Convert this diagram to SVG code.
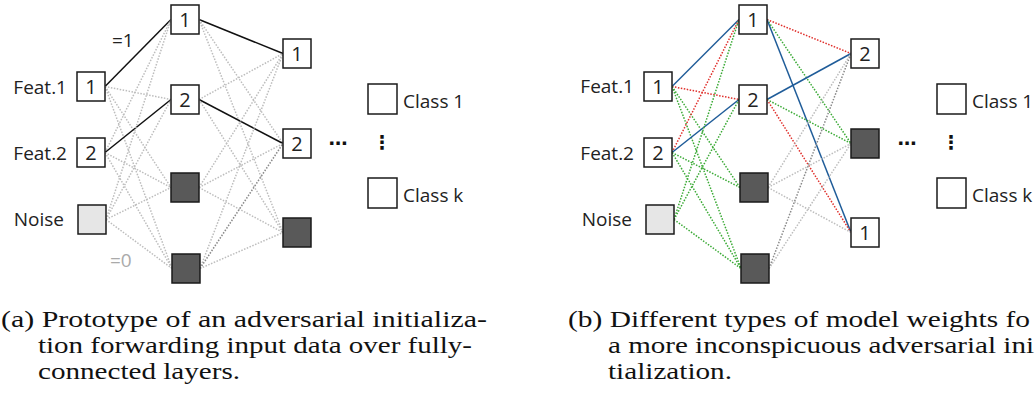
<svg xmlns="http://www.w3.org/2000/svg" width="1036" height="405" viewBox="0 0 1036 405">
  <style>
    .box { fill: #ffffff; stroke: #1a1a1a; stroke-width: 1.5; }
    .dark { fill: #595959; }
    .light { fill: #e6e6e6; }
    .lbl { font-family: "Open Sans", "Noto Sans", sans-serif; font-size: 19px; fill: #222222; }
    .num { text-anchor: middle; font-size: 20px; }
    .end { text-anchor: end; }
    .cap { font-family: "Liberation Serif", "DejaVu Serif", serif; font-size: 23px; fill: #111111; }
    .sym { font-family: "DejaVu Sans", sans-serif; font-size: 19px; fill: #111111; font-weight: bold; }
    line { fill: none; stroke-width: 1.5; }
    .solid { stroke: #111111; }
    .dot { stroke-dasharray: 1.5 1.5; }
    .g { stroke: #bdbdbd; }
    .g2 { stroke: #8a8a8a; }
    .blue { stroke: #1f5c99; }
    .red { stroke: #e0302c; }
    .green { stroke: #3aaa35; }
  </style>

  <!-- (a) connectors -->
  <g id="connectors-a">
    <!-- input to hidden -->
    <line class="solid" x1="105" y1="86.5" x2="171" y2="19.5"/>
    <line class="dot g" x1="105" y1="86.5" x2="171" y2="99.5"/>
    <line class="dot g" x1="105" y1="86.5" x2="171" y2="187.5"/>
    <line class="dot g" x1="105" y1="86.5" x2="172" y2="268.5"/>
    <line class="dot g" x1="105" y1="152.5" x2="171" y2="19.5"/>
    <line class="solid" x1="105" y1="152.5" x2="171" y2="99.5"/>
    <line class="dot g" x1="105" y1="152.5" x2="171" y2="187.5"/>
    <line class="dot g" x1="105" y1="152.5" x2="172" y2="268.5"/>
    <line class="dot g" x1="106" y1="219.5" x2="171" y2="19.5"/>
    <line class="dot g" x1="106" y1="219.5" x2="171" y2="99.5"/>
    <line class="dot g" x1="106" y1="219.5" x2="171" y2="187.5"/>
    <line class="dot g" x1="106" y1="219.5" x2="172" y2="268.5"/>
    <!-- hidden to output -->
    <line class="solid" x1="199" y1="19.5" x2="283" y2="53.5"/>
    <line class="dot g" x1="199" y1="19.5" x2="283" y2="143.5"/>
    <line class="dot g" x1="199" y1="19.5" x2="283" y2="232.5"/>
    <line class="dot g" x1="199" y1="99.5" x2="283" y2="53.5"/>
    <line class="solid" x1="199" y1="99.5" x2="283" y2="143.5"/>
    <line class="dot g" x1="199" y1="99.5" x2="283" y2="232.5"/>
    <line class="dot g" x1="199" y1="187.5" x2="283" y2="53.5"/>
    <line class="dot g" x1="199" y1="187.5" x2="283" y2="143.5"/>
    <line class="dot g" x1="199" y1="187.5" x2="283" y2="232.5"/>
    <line class="dot g" x1="200" y1="268.5" x2="283" y2="53.5"/>
    <line class="dot g2" x1="200" y1="268.5" x2="283" y2="143.5"/>
    <line class="dot g" x1="200" y1="268.5" x2="283" y2="232.5"/>
  </g>

  <!-- (a) nodes -->
  <g id="a-feat1"><rect class="box" x="77" y="72" width="28" height="29"/><text class="lbl num" x="91" y="94">1</text><text class="lbl end" x="67" y="94">Feat.1</text></g>
  <g id="a-feat2"><rect class="box" x="77" y="138" width="28" height="29"/><text class="lbl num" x="91" y="160">2</text><text class="lbl end" x="67" y="160">Feat.2</text></g>
  <g id="a-noise"><rect class="box light" x="78" y="205" width="28" height="29"/><text class="lbl end" x="64" y="226">Noise</text></g>
  <g id="a-h1"><rect class="box" x="171" y="5" width="28" height="29"/><text class="lbl num" x="185" y="27">1</text></g>
  <g id="a-h2"><rect class="box" x="171" y="85" width="28" height="29"/><text class="lbl num" x="185" y="107">2</text></g>
  <g id="a-h3"><rect class="box dark" x="171" y="173" width="28" height="29"/></g>
  <g id="a-h4"><rect class="box dark" x="172" y="254" width="28" height="29"/></g>
  <g id="a-o1"><rect class="box" x="283" y="39" width="28" height="29"/><text class="lbl num" x="297" y="61">1</text></g>
  <g id="a-o2"><rect class="box" x="283" y="129" width="28" height="29"/><text class="lbl num" x="297" y="151">2</text></g>
  <g id="a-o3"><rect class="box dark" x="283" y="218" width="28" height="29"/></g>
  <g id="a-class1"><rect class="box" x="368" y="84" width="29" height="30"/><text class="lbl" x="403" y="108">Class 1</text></g>
  <g id="a-classk"><rect class="box" x="368" y="178" width="29" height="30"/><text class="lbl" x="403" y="202">Class k</text></g>
  <text class="lbl" x="112" y="47">=1</text>
  <text class="lbl" x="110" y="267" style="fill:#aaaaaa">=0</text>
  <text class="sym" x="338" y="150" text-anchor="middle">⋯</text>
  <text class="sym" x="382" y="149" text-anchor="middle">⋮</text>

  <!-- (b) connectors -->
  <g id="connectors-b">
    <!-- input to hidden -->
    <line class="blue" x1="672" y1="86.5" x2="739" y2="19.5"/>
    <line class="dot red" x1="672" y1="86.5" x2="739" y2="99.5"/>
    <line class="dot green" x1="672" y1="86.5" x2="740" y2="187.5"/>
    <line class="dot green" x1="672" y1="86.5" x2="741" y2="268.5"/>
    <line class="dot red" x1="672" y1="152.5" x2="739" y2="19.5"/>
    <line class="blue" x1="672" y1="152.5" x2="739" y2="99.5"/>
    <line class="dot green" x1="672" y1="152.5" x2="740" y2="187.5"/>
    <line class="dot green" x1="672" y1="152.5" x2="741" y2="268.5"/>
    <line class="dot green" x1="674" y1="219.5" x2="739" y2="19.5"/>
    <line class="dot green" x1="674" y1="219.5" x2="739" y2="99.5"/>
    <line class="dot green" x1="674" y1="219.5" x2="741" y2="268.5"/>
    <!-- hidden to output -->
    <line class="dot red" x1="767" y1="19.5" x2="851" y2="53.5"/>
    <line class="dot green" x1="767" y1="19.5" x2="851" y2="143.5"/>
    <line class="blue" x1="767" y1="19.5" x2="851" y2="232.5"/>
    <line class="blue" x1="767" y1="99.5" x2="851" y2="53.5"/>
    <line class="dot green" x1="767" y1="99.5" x2="851" y2="143.5"/>
    <line class="dot red" x1="767" y1="99.5" x2="851" y2="232.5"/>
    <line class="dot g" x1="768" y1="187.5" x2="851" y2="53.5"/>
    <line class="dot g" x1="768" y1="187.5" x2="851" y2="143.5"/>
    <line class="dot g" x1="768" y1="187.5" x2="851" y2="232.5"/>
    <line class="dot g2" x1="769" y1="268.5" x2="851" y2="53.5"/>
    <line class="dot g" x1="769" y1="268.5" x2="851" y2="143.5"/>
  </g>

  <!-- (b) nodes -->
  <g id="b-feat1"><rect class="box" x="644" y="72" width="28" height="29"/><text class="lbl num" x="658" y="94">1</text><text class="lbl end" x="634" y="93">Feat.1</text></g>
  <g id="b-feat2"><rect class="box" x="644" y="138" width="28" height="29"/><text class="lbl num" x="658" y="160">2</text><text class="lbl end" x="634" y="160">Feat.2</text></g>
  <g id="b-noise"><rect class="box light" x="646" y="205" width="28" height="29"/><text class="lbl end" x="632" y="226">Noise</text></g>
  <g id="b-h1"><rect class="box" x="739" y="5" width="28" height="29"/><text class="lbl num" x="753" y="27">1</text></g>
  <g id="b-h2"><rect class="box" x="739" y="85" width="28" height="29"/><text class="lbl num" x="753" y="107">2</text></g>
  <g id="b-h3"><rect class="box dark" x="740" y="173" width="28" height="29"/></g>
  <g id="b-h4"><rect class="box dark" x="741" y="254" width="28" height="29"/></g>
  <g id="b-o2"><rect class="box" x="851" y="39" width="28" height="29"/><text class="lbl num" x="865" y="61">2</text></g>
  <g id="b-od"><rect class="box dark" x="851" y="129" width="28" height="29"/></g>
  <g id="b-o1"><rect class="box" x="851" y="218" width="28" height="29"/><text class="lbl num" x="865" y="240">1</text></g>
  <g id="b-class1"><rect class="box" x="937" y="84" width="29" height="30"/><text class="lbl" x="972" y="108">Class 1</text></g>
  <g id="b-classk"><rect class="box" x="937" y="178" width="29" height="30"/><text class="lbl" x="972" y="202">Class k</text></g>
  <text class="sym" x="907" y="150" text-anchor="middle">⋯</text>
  <text class="sym" x="951" y="149" text-anchor="middle">⋮</text>

  <!-- captions -->
  <text class="cap" x="1" y="327" textLength="486" lengthAdjust="spacingAndGlyphs">(a) Prototype of an adversarial initializa-</text>
  <text class="cap" x="38" y="353" textLength="434" lengthAdjust="spacingAndGlyphs">tion forwarding input data over fully-</text>
  <text class="cap" x="38" y="379" textLength="202" lengthAdjust="spacingAndGlyphs">connected layers.</text>
  <text class="cap" x="568" y="327" textLength="462" lengthAdjust="spacingAndGlyphs">(b) Different types of model weights fo</text>
  <text class="cap" x="608" y="353" textLength="426" lengthAdjust="spacingAndGlyphs">a more inconspicuous adversarial ini</text>
  <text class="cap" x="608" y="379" textLength="124" lengthAdjust="spacingAndGlyphs">tialization.</text>
</svg>
